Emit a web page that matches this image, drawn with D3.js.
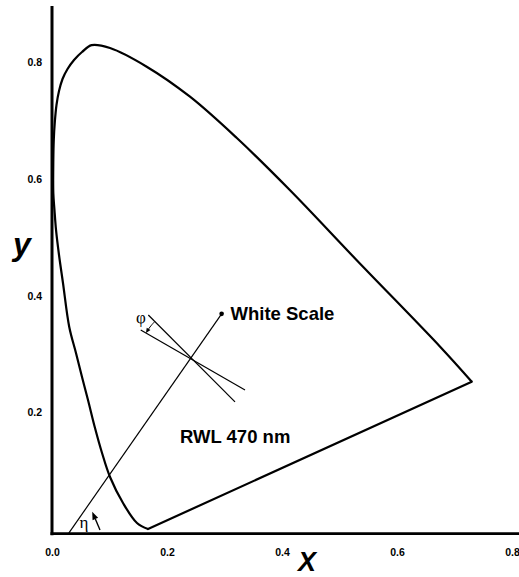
<!DOCTYPE html>
<html>
<head>
<meta charset="utf-8">
<script src="https://cdn.jsdelivr.net/npm/d3@7/dist/d3.min.js"></script>
<style>
  html, body { margin: 0; padding: 0; background: #fff; }
  svg { display: block; }
  .tick text { font-family: "Liberation Sans", Arial, sans-serif; font-weight: bold; font-size: 10.5px; fill: #000; }
</style>
</head>
<body>
<svg id="chart" width="519" height="577"></svg>
<script>
// ---- data ----
const xTicks = [0.0, 0.2, 0.4, 0.6, 0.8];
const yTicks = [0.2, 0.4, 0.6, 0.8];
// spectral locus traced from red end, over the top, down to the violet end
const locusX = [0.730, 0.675, 0.530, 0.414, 0.321, 0.240, 0.1647, 0.1009, 0.069, 0.0522, 0.0383, 0.027, 0.0183, 0.0122, 0.0078, 0.0049, 0.0031, 0.0023, 0.0023, 0.0043, 0.007, 0.0122, 0.0191, 0.0300, 0.0417, 0.0522, 0.0626, 0.0748, 0.0870, 0.1009, 0.1235, 0.1478, 0.167];
const locusY = [0.2527, 0.3127, 0.461, 0.581, 0.671, 0.7415, 0.793, 0.825, 0.830, 0.8182, 0.8045, 0.789, 0.7719, 0.7513, 0.7273, 0.6981, 0.6672, 0.6329, 0.576, 0.5472, 0.5129, 0.4700, 0.4220, 0.3465, 0.3019, 0.2607, 0.2213, 0.1732, 0.1304, 0.0892, 0.0446, 0.0103, 0.0];
// white scale line (start at axis, end at dot)
const whiteX = [0.0292, 0.295];
const whiteY = [-0.007, 0.369];
// the two crossing lines (phi)
const lineAX = [0.1675, 0.3183];
const lineAY = [0.367, 0.218];
const lineBX = [0.1543, 0.3357];
const lineBY = [0.3413, 0.2384];
// eta arrow (tail, tip)
const etaX = [0.0835, 0.0699];
const etaY = [-0.0017, 0.0297];
// text labels
const labelText = ["White Scale", "RWL 470 nm"];
const labelX = [0.3105, 0.2226];
const labelY = [0.358, 0.1475];

// ---- scales ----
const svg = d3.select("#chart");
const x = d3.scaleLinear().domain([0, 0.8]).range([52, 512]);
const y = d3.scaleLinear().domain([0, 0.8]).range([529, 62.6]);

// axis lines
svg.append("line").attr("x1", x(0)).attr("x2", x(0)).attr("y1", 6).attr("y2", y(-0.008) + 1.5)
  .attr("stroke", "#000").attr("stroke-width", 3);
svg.append("line").attr("x1", x(0) - 1.5).attr("x2", 519).attr("y1", y(-0.008)).attr("y2", y(-0.008))
  .attr("stroke", "#000").attr("stroke-width", 2.8);

// tick labels via axes
const xAxis = svg.append("g").attr("transform", `translate(0,${y(-0.008)})`)
  .call(d3.axisBottom(x).tickValues(xTicks).tickSize(0).tickPadding(14.6).tickFormat(d3.format(".1f")));
xAxis.select(".domain").remove();
const yAxis = svg.append("g").attr("transform", `translate(${x(0)},0)`)
  .call(d3.axisLeft(y).tickValues(yTicks).tickSize(0).tickPadding(10).tickFormat(d3.format(".1f")));
yAxis.select(".domain").remove();

// axis titles
svg.append("text").attr("x", 307).attr("y", 571).attr("text-anchor", "middle").attr("fill", "#000")
  .attr("font-family", "Liberation Sans, Arial, sans-serif").attr("font-weight", "bold").attr("font-style", "italic")
  .attr("font-size", 27).text("X");
svg.append("text").attr("x", 22).attr("y", 255).attr("text-anchor", "middle").attr("fill", "#000")
  .attr("font-family", "Liberation Sans, Arial, sans-serif").attr("font-weight", "bold").attr("font-style", "italic")
  .attr("font-size", 32).text("y");

// spectral locus
const locus = locusX.map((v, i) => [v, locusY[i]]);
svg.append("path").datum(locus)
  .attr("d", d3.line().x(d => x(d[0])).y(d => y(d[1])).curve(d3.curveCatmullRom.alpha(0.5)))
  .attr("fill", "none").attr("stroke", "#000").attr("stroke-width", 2.2).attr("stroke-linejoin", "round");
// purple line
svg.append("line")
  .attr("x1", x(locusX[locusX.length - 1])).attr("y1", y(locusY[locusY.length - 1]))
  .attr("x2", x(locusX[0])).attr("y2", y(locusY[0]))
  .attr("stroke", "#000").attr("stroke-width", 2.2).attr("stroke-linecap", "round");

// white scale line + dot
svg.append("line").attr("x1", x(whiteX[0])).attr("y1", y(whiteY[0])).attr("x2", x(whiteX[1])).attr("y2", y(whiteY[1]))
  .attr("stroke", "#000").attr("stroke-width", 1.2);
svg.append("circle").attr("cx", x(whiteX[1])).attr("cy", y(whiteY[1])).attr("r", 2.3).attr("fill", "#000");

// phi lines
[[lineAX, lineAY], [lineBX, lineBY]].forEach(([lx, ly]) => {
  svg.append("line").attr("x1", x(lx[0])).attr("y1", y(ly[0])).attr("x2", x(lx[1])).attr("y2", y(ly[1]))
    .attr("stroke", "#000").attr("stroke-width", 1.2);
});

// phi arc arrow
(function () {
  const ax1 = x(lineAX[0]), ay1 = y(lineAY[0]), ax2 = x(lineAX[1]), ay2 = y(lineAY[1]);
  const bx1 = x(lineBX[0]), by1 = y(lineBY[0]), bx2 = x(lineBX[1]), by2 = y(lineBY[1]);
  const d = (ax1 - ax2) * (by1 - by2) - (ay1 - ay2) * (bx1 - bx2);
  const px = ((ax1 * ay2 - ay1 * ax2) * (bx1 - bx2) - (ax1 - ax2) * (bx1 * by2 - by1 * bx2)) / d;
  const py = ((ax1 * ay2 - ay1 * ax2) * (by1 - by2) - (ay1 - ay2) * (bx1 * by2 - by1 * bx2)) / d;
  const r = 55;
  const angA = Math.atan2(ay1 - py, ax1 - px);
  const angB = Math.atan2(by1 - py, bx1 - px);
  const pts = d3.range(0, 1.0001, 0.1).map(t => {
    const a = angA + (angB - angA) * t;
    return [px + r * Math.cos(a), py + r * Math.sin(a)];
  });
  svg.append("path").attr("d", d3.line()(pts.slice(0, pts.length - 2)))
    .attr("fill", "none").attr("stroke", "#000").attr("stroke-width", 1);
  const tip = pts[pts.length - 1], base = pts[pts.length - 3];
  const ang = Math.atan2(tip[1] - base[1], tip[0] - base[0]);
  const L = 5, W = 2.2;
  const bxp = tip[0] - L * Math.cos(ang), byp = tip[1] - L * Math.sin(ang);
  svg.append("path").attr("d", `M${tip[0]},${tip[1]}L${bxp + W * Math.sin(ang)},${byp - W * Math.cos(ang)}L${bxp - W * Math.sin(ang)},${byp + W * Math.cos(ang)}Z`)
    .attr("fill", "#000");
  svg.append("text").attr("x", pts[0][0] - 14).attr("y", pts[0][1] + 1).attr("text-anchor", "middle").attr("fill", "#000")
    .attr("font-family", "Liberation Serif, Times New Roman, serif").attr("font-size", 17).text("φ");
})();

// eta arrow
(function () {
  const tx = x(etaX[0]), ty = y(etaY[0]), hx = x(etaX[1]), hy = y(etaY[1]);
  const ang = Math.atan2(hy - ty, hx - tx);
  const L = 8, W = 3;
  const bxp = hx - L * Math.cos(ang), byp = hy - L * Math.sin(ang);
  svg.append("line").attr("x1", tx).attr("y1", ty).attr("x2", bxp).attr("y2", byp)
    .attr("stroke", "#000").attr("stroke-width", 1.4);
  svg.append("path").attr("d", `M${hx},${hy}L${bxp + W * Math.sin(ang)},${byp - W * Math.cos(ang)}L${bxp - W * Math.sin(ang)},${byp + W * Math.cos(ang)}Z`)
    .attr("fill", "#000");
  svg.append("text").attr("x", tx - 16).attr("y", ty - 2).attr("text-anchor", "middle").attr("fill", "#000")
    .attr("font-family", "Liberation Serif, Times New Roman, serif").attr("font-size", 17).text("η");
})();

// labels
svg.selectAll("text.lbl").data(labelText).enter().append("text").attr("class", "lbl")
  .attr("x", (d, i) => x(labelX[i])).attr("y", (d, i) => y(labelY[i])).attr("fill", "#000")
  .attr("font-family", "Liberation Sans, Arial, sans-serif").attr("font-weight", "bold").attr("font-size", 18.5)
  .text(d => d);
</script>
</body>
</html>
